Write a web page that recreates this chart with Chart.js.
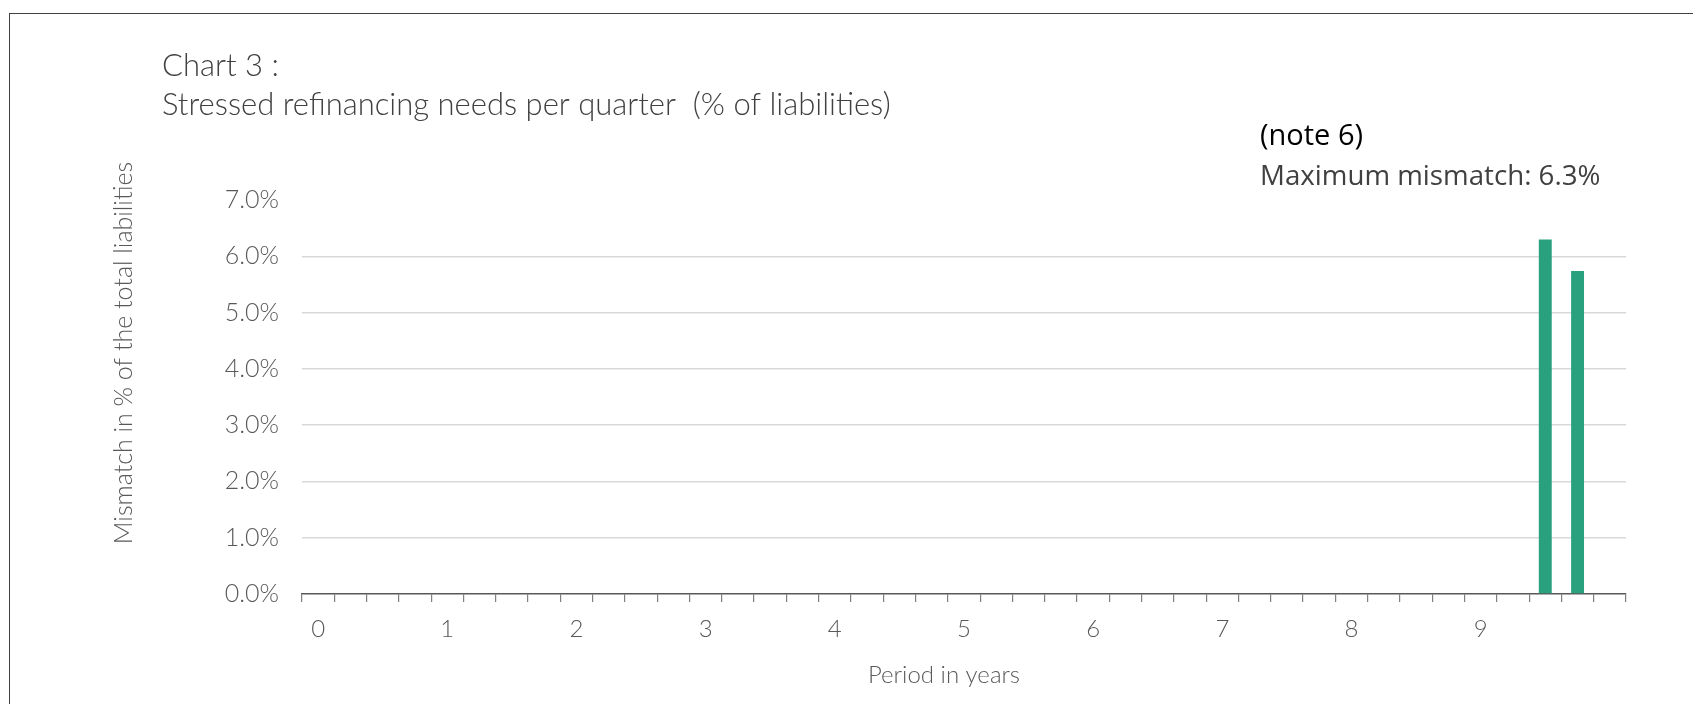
<!DOCTYPE html>
<html lang="en">
<head>
    <meta charset="UTF-8">
    <title>Chart 3</title>
    <style>
        html, body { margin: 0; padding: 0; background: #fff; overflow: hidden; }
        #wrap { position: relative; width: 1693px; height: 704px; }
        #frame { position: absolute; left: 9px; top: 13px; width: 1800px; height: 800px; border: 1.5px solid #404040; }
        #myChart { position: absolute; left: 0; top: 0; }
    </style>
</head>
<body>
<div id="wrap">
    <div id="frame"></div>
    <canvas id="myChart" width="1693" height="704"></canvas>
</div>
<script src="https://cdn.jsdelivr.net/npm/chart.js"></script>
<script>
    // quarters from year 0 to year 10
    const quarters = [
        '0 Q1', '0 Q2', '0 Q3', '0 Q4',
        '1 Q1', '1 Q2', '1 Q3', '1 Q4',
        '2 Q1', '2 Q2', '2 Q3', '2 Q4',
        '3 Q1', '3 Q2', '3 Q3', '3 Q4',
        '4 Q1', '4 Q2', '4 Q3', '4 Q4',
        '5 Q1', '5 Q2', '5 Q3', '5 Q4',
        '6 Q1', '6 Q2', '6 Q3', '6 Q4',
        '7 Q1', '7 Q2', '7 Q3', '7 Q4',
        '8 Q1', '8 Q2', '8 Q3', '8 Q4',
        '9 Q1', '9 Q2', '9 Q3', '9 Q4',
        '10 Q1'
    ];
    // mismatch in % of total liabilities, per quarter
    const mismatch = [
        0, 0, 0, 0,
        0, 0, 0, 0,
        0, 0, 0, 0,
        0, 0, 0, 0,
        0, 0, 0, 0,
        0, 0, 0, 0,
        0, 0, 0, 0,
        0, 0, 0, 0,
        0, 0, 0, 0,
        0, 0, 6.3, 5.74,
        0
    ];
    const yearLabels = ['0', '1', '2', '3', '4', '5', '6', '7', '8', '9'];

    const lightFont = 'Lato';
    const grey = '#595959';

    // header texts and axis titles drawn on top of the canvas
    const headerPlugin = {
        id: 'header',
        afterDraw(chart) {
            const c = chart.ctx;
            c.save();
            c.textBaseline = 'middle';
            c.textAlign = 'left';
            c.fillStyle = '#404040';
            c.font = '300 31px ' + lightFont;
            c.fillText('Chart 3 :', 162, 66);
            c.fillText('Stressed refinancing needs per quarter  (% of liabilities)', 162, 105);

            c.font = '500 29px "Open Sans"';
            c.fillStyle = '#000';
            c.fillText('(note 6)', 1260, 137);
            c.font = '400 27.7px "Open Sans"';
            c.fillStyle = '#404040';
            c.fillText('Maximum mismatch: ' + Math.max(...mismatch).toFixed(1) + '%', 1260, 177);

            c.fillStyle = grey;
            c.textAlign = 'center';
            c.font = '300 24px ' + lightFont;
            c.fillText('Period in years', 944, 675);

            c.translate(124, 353);
            c.rotate(-Math.PI / 2);
            c.font = '300 25px ' + lightFont;
            c.fillText('Mismatch in % of the total liabilities', 0, 0);
            c.restore();
        }
    };

    let ctx = document.querySelector('#myChart').getContext('2d');
    let myChart = new Chart(ctx, {
        type: 'bar',
        data: {
            labels: quarters,
            datasets: [{
                data: mismatch,
                backgroundColor: '#29a17f',
                borderWidth: 0,
                barPercentage: 0.4,
                categoryPercentage: 1
            }]
        },
        options: {
            responsive: false,
            animation: false,
            events: [],
            layout: {
                padding: { left: 110, top: 200, right: 67, bottom: 0 }
            },
            plugins: {
                legend: { display: false },
                tooltip: { enabled: false }
            },
            scales: {
                x: {
                    offset: true,
                    grid: {
                        offset: true,
                        drawOnChartArea: false,
                        drawTicks: true,
                        tickLength: 8,
                        color: '#7f7f7f',
                        lineWidth: 1.2
                    },
                    border: { display: true, color: grey, width: 1.5 },
                    ticks: {
                        autoSkip: false,
                        maxRotation: 0,
                        padding: 13,
                        color: grey,
                        font: { family: lightFont, weight: 300, size: 24 },
                        callback: (v, i) => (i % 4 === 0 && yearLabels[i / 4]) ? yearLabels[i / 4] : ''
                    },
                    afterFit: (scale) => { scale.height = 110; }
                },
                y: {
                    min: 0,
                    max: 7,
                    ticks: {
                        stepSize: 1,
                        padding: 23,
                        color: grey,
                        font: { family: lightFont, weight: 300, size: 25 },
                        callback: (v) => v.toFixed(1) + '%'
                    },
                    grid: {
                        drawTicks: false,
                        color: (c) => (c.tick.value === 0 || c.tick.value === 7) ? 'rgba(0,0,0,0)' : '#d9d9d9',
                        lineWidth: 1.5
                    },
                    border: { display: false },
                    afterFit: (scale) => { scale.width = 192; }
                }
            }
        },
        plugins: [headerPlugin]
    });
</script>
</body>
</html>
